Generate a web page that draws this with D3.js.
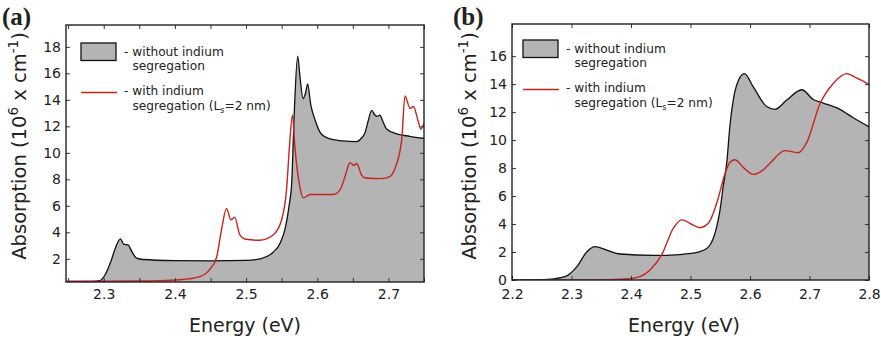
<!DOCTYPE html>
<html>
<head>
<meta charset="utf-8">
<script src="https://cdn.jsdelivr.net/npm/d3@7"></script>
<style>
  html, body { margin: 0; padding: 0; background: #fff; }
  svg { display: block; }
  text { font-family: "DejaVu Sans", sans-serif; fill: #222; }
</style>
</head>
<body>
<svg id="chart" width="881" height="340"></svg>
<script>
// Absorption spectra [energy (eV), absorption (10^6 cm^-1)]
// Panel (a)
const aWithout = [
  [2.247,0.3],[2.285,0.3],[2.294,0.35],[2.302,0.8],[2.310,1.8],[2.317,2.9],[2.3235,3.5],
  [2.328,3.1],[2.334,3.05],[2.340,2.5],[2.346,2.05],[2.355,1.95],[2.40,1.87],[2.45,1.85],
  [2.50,1.88],[2.52,2.0],[2.538,2.5],[2.548,3.2],[2.555,4.3],[2.561,6.2],[2.564,7.6],
  [2.5677,13.0],[2.5725,17.3],[2.576,15.6],[2.580,14.1],[2.5835,14.5],[2.5865,15.2],
  [2.591,13.6],[2.5968,12.5],[2.606,11.4],[2.618,11.05],[2.635,10.9],[2.6554,10.85],
  [2.662,11.1],[2.667,11.5],[2.672,12.5],[2.6765,13.2],[2.681,12.85],[2.684,12.75],
  [2.688,12.85],[2.692,12.4],[2.6975,11.8],[2.7117,11.43],[2.73,11.25],[2.75,11.1]
];
const aWith = [
  [2.247,0.3],[2.35,0.32],[2.407,0.42],[2.435,0.65],[2.449,1.2],[2.4585,2.1],[2.4655,4.2],
  [2.4725,5.8],[2.4786,4.95],[2.484,5.15],[2.4913,3.8],[2.498,3.5],[2.519,3.4],[2.538,3.8],
  [2.55,4.95],[2.557,7.3],[2.561,10.5],[2.5652,12.85],[2.5685,10.5],[2.5757,7.4],[2.580,6.6],
  [2.590,6.85],[2.6225,6.85],[2.632,7.2],[2.639,8.2],[2.646,9.25],[2.6516,9.05],[2.6554,9.2],
  [2.6625,8.3],[2.668,8.1],[2.69,8.05],[2.702,8.2],[2.709,8.8],[2.7187,11.0],[2.7233,14.3],
  [2.7304,13.35],[2.735,13.5],[2.742,12.36],[2.7455,11.8],[2.75,12.25]
];
// Panel (b)
const bWithout = [
  [2.2,0],[2.25,0.02],[2.27,0.08],[2.292,0.29],[2.309,0.95],[2.3255,2.0],[2.3395,2.38],
  [2.359,2.14],[2.3815,1.86],[2.4375,1.76],[2.482,1.82],[2.516,2.02],[2.53,2.35],[2.544,3.8],
  [2.5496,5.0],[2.555,6.7],[2.561,8.4],[2.566,10.9],[2.572,12.9],[2.58,14.2],[2.5905,14.75],
  [2.6055,13.8],[2.628,12.4],[2.642,12.2],[2.6617,12.86],[2.687,13.6],[2.7064,12.9],
  [2.723,12.65],[2.751,12.2],[2.7736,11.6],[2.8,10.95]
];
const bWith = [
  [2.2,0],[2.35,0.01],[2.393,0.07],[2.415,0.24],[2.432,0.71],[2.4515,1.79],[2.471,3.69],
  [2.485,4.3],[2.5047,3.93],[2.516,3.74],[2.53,4.05],[2.544,5.48],[2.558,7.6],[2.566,8.4],
  [2.5745,8.6],[2.59,8.0],[2.6055,7.55],[2.62,7.8],[2.6336,8.35],[2.6588,9.25],[2.681,9.1],
  [2.695,9.8],[2.7176,12.6],[2.74,14.05],[2.7625,14.75],[2.779,14.45],[2.8,13.98]
];

// Tick values
const aXTicks = [2.25,2.3,2.35,2.4,2.45,2.5,2.55,2.6,2.65,2.7,2.75];
const aXLabels = [2.3,2.4,2.5,2.6,2.7];
const aYTicks = [2,4,6,8,10,12,14,16,18];
const bXTicks = [2.2,2.3,2.4,2.5,2.6,2.7,2.8];
const bYTicks = [0,2,4,6,8,10,12,14,16];

const legendLabels = [["- without indium", "segregation"], ["- with indium", "segregation (L", "s", "=2 nm)"]];

const GREY = "#b3b4b3", BLACK = "#111", RED = "#c8231d";

const svg = d3.select("#chart");

const panels = [
  { id: "a", tag: "(a)", tagX: 2, data0: aWithout, data1: aWith,
    x0: 66, x1: 424, yTop: 25, yBot: 282, xDom: [2.247, 2.75], yDom: [0.25, 19.65],
    xTicks: aXTicks, xLabels: aXLabels, yTicks: aYTicks, xPad: 7,
    titleX: 26, energyX: 245, legX: 81, legY: 43 },
  { id: "b", tag: "(b)", tagX: 453, data0: bWithout, data1: bWith,
    x0: 512, x1: 869, yTop: 24, yBot: 280, xDom: [2.2, 2.8], yDom: [0, 18.3],
    xTicks: bXTicks, xLabels: bXTicks, yTicks: bYTicks, xPad: 9,
    titleX: 476, energyX: 684, legX: 523, legY: 40 }
];

panels.forEach(p => {
  const x = d3.scaleLinear().domain(p.xDom).range([p.x0, p.x1]);
  const y = d3.scaleLinear().domain(p.yDom).range([p.yBot, p.yTop]);
  const g = svg.append("g");

  g.append("clipPath").attr("id", "clip-" + p.id)
    .append("rect").attr("x", p.x0).attr("y", p.yTop)
    .attr("width", p.x1 - p.x0).attr("height", p.yBot - p.yTop);

  const plot = g.append("g").attr("clip-path", `url(#clip-${p.id})`);

  const area = d3.area().x(d => x(d[0])).y0(p.yBot).y1(d => y(d[1])).curve(d3.curveMonotoneX);
  const line = d3.line().x(d => x(d[0])).y(d => y(d[1])).curve(d3.curveMonotoneX);

  plot.append("path").datum(p.data0).attr("d", area).attr("fill", GREY);
  plot.append("path").datum(p.data0).attr("d", line)
    .attr("fill", "none").attr("stroke", BLACK).attr("stroke-width", 1.3);
  plot.append("path").datum(p.data1).attr("d", line)
    .attr("fill", "none").attr("stroke", RED).attr("stroke-width", 1.4);

  // Inward ticks on all four sides
  const fmt = d => p.xLabels.some(v => Math.abs(v - d) < 1e-9) ? d3.format(".1f")(d) : "";
  const bottom = g.append("g").attr("transform", `translate(0,${p.yBot})`)
    .call(d3.axisBottom(x).tickValues(p.xTicks).tickFormat(fmt).tickSize(-4).tickPadding(p.xPad));
  const top = g.append("g").attr("transform", `translate(0,${p.yTop})`)
    .call(d3.axisTop(x).tickValues(p.xTicks).tickFormat("").tickSize(-4));
  const left = g.append("g").attr("transform", `translate(${p.x0},0)`)
    .call(d3.axisLeft(y).tickValues(p.yTicks).tickFormat(d3.format("d")).tickSize(-4).tickPadding(5));
  const right = g.append("g").attr("transform", `translate(${p.x1},0)`)
    .call(d3.axisRight(y).tickValues(p.yTicks).tickFormat("").tickSize(-4));
  [bottom, top, left, right].forEach(ax => {
    ax.select(".domain").remove();
    ax.selectAll(".tick line").attr("stroke", "#333").attr("stroke-width", 1);
    ax.selectAll(".tick text").style("font-family", "DejaVu Sans, sans-serif")
      .style("font-size", "14px").attr("fill", "#222");
  });

  // Frame
  g.append("rect").attr("x", p.x0).attr("y", p.yTop)
    .attr("width", p.x1 - p.x0).attr("height", p.yBot - p.yTop)
    .attr("fill", "none").attr("stroke", "#222").attr("stroke-width", 1.4);

  // Axis titles
  g.append("text").attr("x", p.energyX).attr("y", 332)
    .attr("text-anchor", "middle").style("font-size", "19px").text("Energy (eV)");

  const yt = g.append("text")
    .attr("transform", `translate(${p.titleX},146) rotate(-90)`)
    .attr("text-anchor", "middle").style("font-size", "19.5px");
  yt.append("tspan").text("Absorption (10");
  yt.append("tspan").attr("dy", -8).style("font-size", "13.5px").text("6");
  yt.append("tspan").attr("dy", 8).text(" x cm");
  yt.append("tspan").attr("dy", -8).style("font-size", "13.5px").text("-1");
  yt.append("tspan").attr("dy", 8).text(")");

  // Panel tag
  g.append("text").attr("x", p.tagX).attr("y", 25)
    .style("font-family", "Liberation Serif, serif").style("font-weight", "bold")
    .style("font-size", "25px").attr("fill", "#111").text(p.tag);

  // Legend
  const lg = g.append("g").attr("transform", `translate(${p.legX},${p.legY})`);
  lg.append("rect").attr("x", 0).attr("y", 0).attr("width", 35).attr("height", 17.5)
    .attr("fill", GREY).attr("stroke", BLACK).attr("stroke-width", 1.3);
  lg.append("line").attr("x1", 0).attr("x2", 36).attr("y1", 49.5).attr("y2", 49.5)
    .attr("stroke", RED).attr("stroke-width", 1.4);
  const txt = (xx, yy) => lg.append("text").attr("x", xx).attr("y", yy)
    .style("font-size", "12.2px").attr("fill", "#333");
  txt(43, 12.5).text(legendLabels[0][0]);
  txt(51.5, 27).text(legendLabels[0][1]);
  txt(43, 52).text(legendLabels[1][0]);
  const t4 = txt(51.5, 67);
  t4.append("tspan").text(legendLabels[1][1]);
  t4.append("tspan").attr("dy", 3).style("font-size", "8px").text(legendLabels[1][2]);
  t4.append("tspan").attr("dy", -3).text(legendLabels[1][3]);
});
</script>
</body>
</html>
